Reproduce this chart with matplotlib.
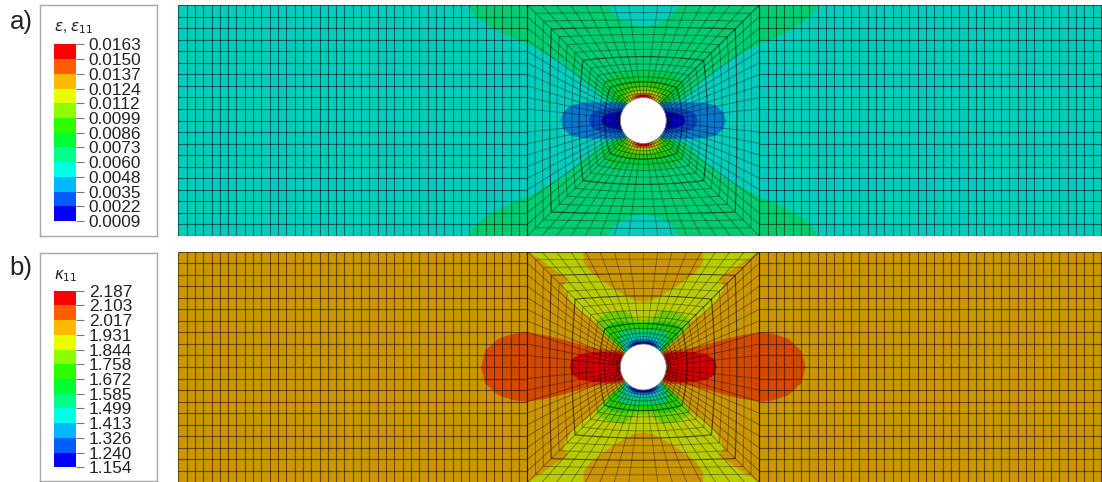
import numpy as np
import matplotlib
matplotlib.use("Agg")
import matplotlib.pyplot as plt
from matplotlib.patches import Polygon, Circle
from matplotlib.colors import ListedColormap, BoundaryNorm
from matplotlib.cm import ScalarMappable

plt.rcParams['font.family'] = ['Liberation Sans', 'DejaVu Sans']
plt.rcParams['mathtext.fontset'] = 'dejavusans'

W, H = 1102, 482

# ---------- legend data ----------
legend_colors = ['#0000FF', '#005DFF', '#00B9FF', '#00FFE8', '#00FF8B', '#00FF2E',
                 '#2EFF00', '#8BFF00', '#E8FF00', '#FFB900', '#FF5D00', '#FF0000']
labels_a = ['0.0009', '0.0022', '0.0035', '0.0048', '0.0060', '0.0073', '0.0086',
            '0.0099', '0.0112', '0.0124', '0.0137', '0.0150', '0.0163']
labels_b = ['1.154', '1.240', '1.326', '1.413', '1.499', '1.585', '1.672',
            '1.758', '1.844', '1.931', '2.017', '2.103', '2.187']

# ---------- mesh data (mesh units) ----------
hole_radius = 23.0
half_height = 115.5
square_half = 116.0
plate_left = -465.0
plate_right = 466.0
n_columns_side = 42
n_rows = 20          # elements along the left and right sides of the square
n_top = 16           # elements along the top and bottom sides of the square
ring_fractions = [0.0, 0.022, 0.047, 0.079, 0.119, 0.169, 0.223, 0.291, 0.363, 0.442,
                  0.52, 0.60, 0.68, 0.759, 0.838, 0.917, 1.0]
dark_rings_a = [0.169, 0.442, 0.759]
dark_rings_b = [0.223, 0.52, 0.759]

# ---------- contour outlines, one quadrant (horizontal, vertical distance from hole centre) ----------
base_a = '#00CDBC'
a_bands = [
    ('#00CC70', [(18, 16), (30, 19), (42, 23), (52, 33), (67, 45), (80, 57), (100, 68), (117, 77),
                 (143, 88), (158, 97), (168, 105), (175, 115.5), (36, 115.5), (27, 103), (13, 96), (0, 94)]),
    ('#00CC40', [(19, 15), (28, 20), (36, 26), (41, 32), (38, 40), (27, 47), (0, 48)]),
    ('#25CC00', [(17, 16), (22, 20), (28, 26), (25, 33), (15, 38), (0, 39)]),
    ('#70CC00', [(16, 17), (19, 22), (18, 28), (11, 32), (0, 33)]),
    ('#BACC00', [(15, 17), (15, 22), (13, 27), (7, 29), (0, 29.5)]),
    ('#CC9400', [(11, 20), (11, 24.5), (7, 27), (0, 27.5)]),
    ('#CC4A00', [(9, 21.5), (7, 25.5), (0, 26.5)]),
    ('#CC0000', [(6, 22.5), (4, 25), (0, 25.5)]),
    ('#0878CC', [(82, 0), (80, 8), (72, 15), (60, 17.5), (45, 18), (32, 18), (24, 18), (17, 17)]),
    ('#0448C4', [(54, 0), (52, 6), (46, 10), (36, 12), (26, 12), (20, 12)]),
    ('#0000C0', [(42, 0), (40, 4), (34, 7), (26, 8), (20, 10)]),
]
base_b = '#CC9600'
b_bands = [
    ('#D24A00', [(162, 0), (158, 16), (145, 28), (130, 33), (117, 34.5), (100, 32), (83, 28), (65, 23),
                 (50, 19), (35, 17), (24, 16), (19, 14)]),
    ('#CC0000', [(73, 0), (71, 8), (62, 13), (48, 15), (35, 15), (26, 14), (20, 12)]),
    ('#BACC00', [(18, 17), (28, 27), (38, 37), (47, 45), (60, 54), (70, 62), (78, 75), (80, 82), (75, 88),
                 (98, 104), (115, 115.5), (60, 115.5), (60, 105), (53, 95), (30, 78), (10, 67), (0, 65)]),
    ('#70CC00', [(20, 17), (30, 25), (38, 32), (44, 40), (47, 47), (37, 53), (20, 57), (7, 48), (0, 47)]),
    ('#25CC00', [(20, 17), (32, 28), (38, 38), (32, 44), (20, 46), (0, 43)]),
    ('#00CC70', [(19, 17), (25, 28), (22, 36), (12, 38), (0, 37)]),
    ('#00CCBA', [(18, 15), (19, 20), (17, 28), (10, 31), (0, 31)]),
    ('#0094CC', [(16, 20), (13, 25), (8, 27.5), (0, 28)]),
    ('#004ACC', [(14, 20), (11, 24), (6, 26), (0, 26)]),
    ('#0000BB', [(12, 20), (9, 23), (5, 24.5), (0, 25)]),
]

fig = plt.figure(figsize=(W / 100, H / 100), dpi=100, facecolor='white')


def px_axes(x0, y0, x1, y1):
    return fig.add_axes([x0 / W, 1 - y1 / H, (x1 - x0) / W, (y1 - y0) / H])


def ring_arrays():
    """Hole-edge points and square-edge points, walked anticlockwise from the corner at +x,+y."""
    s, h = square_half, half_height
    top_x = np.linspace(s, -s, n_top + 1)
    left_y = np.linspace(h, -h, n_rows + 1)
    sq = [(x, h) for x in top_x]
    sq += [(-s, y) for y in left_y[1:]]
    sq += [(x, -h) for x in -top_x[1:]]
    sq += [(s, y) for y in -left_y[1:]]
    sq = np.array(sq)
    a_top = np.linspace(45, 135, n_top + 1)
    a_left = np.linspace(135, 225, n_rows + 1)
    a_bot = np.linspace(225, 315, n_top + 1)
    a_right = np.linspace(315, 405, n_rows + 1)
    ang = np.radians(np.r_[a_top, a_left[1:], a_bot[1:], a_right[1:]])
    return sq, hole_radius * np.cos(ang), hole_radius * np.sin(ang)


def draw_mesh(ax, dark_rings):
    kw = dict(color='black', alpha=0.5, lw=0.8, zorder=3, solid_capstyle='butt')
    fine = dict(kw, alpha=0.42, lw=0.6)
    dark = dict(kw, alpha=0.62, lw=0.8)
    sq, cx, cy = ring_arrays()
    fr = np.array(ring_fractions)
    X = np.outer(1 - fr, cx) + np.outer(fr, sq[:, 0])
    Y = np.outer(1 - fr, cy) + np.outer(fr, sq[:, 1])
    for f, xr, yr in zip(fr, X, Y):
        ax.plot(xr, yr, **(dark if round(f, 3) in dark_rings or f == 1 else fine))
    ax.plot(X, Y, **fine)
    ys = np.linspace(-half_height, half_height, n_rows + 1)
    left = np.linspace(plate_left, -square_half, n_columns_side + 1)
    right = np.linspace(square_half, plate_right, n_columns_side + 1)
    for xs in (left, right):
        for x in xs:
            ax.plot([x, x], [-half_height, half_height], **kw)
        for y in ys:
            ax.plot([xs[0], xs[-1]], [y, y], **kw)


def draw_panel(top, bottom, base, bands, dark_rings):
    ax = px_axes(178, top, W, bottom)
    cx = 643.3 - 178
    ax.set_xlim(-cx, W - 178 - cx)
    ax.set_ylim(-half_height, half_height)
    ax.axis('off')
    ax.add_patch(plt.Rectangle((plate_left, -half_height), plate_right - plate_left, 2 * half_height,
                               fc=base, ec='none', zorder=1))
    for z, (color, outline) in enumerate(bands):
        pts = np.array(list(outline) + [(0, 0)], dtype=float)
        for sx, sy in ((1, 1), (-1, 1), (1, -1), (-1, -1)):
            ax.add_patch(Polygon(pts * [sx, sy], closed=True, fc=color, ec=color, lw=0.3, zorder=2 + 0.01 * z))
    draw_mesh(ax, dark_rings)
    ax.add_patch(Circle((0, 0), hole_radius, fc='white', ec='#777777', lw=0.6, zorder=4))


def draw_legend(box_top, box_bottom, bar_top, bar_bottom, title, labels, letter, letter_y):
    box = px_axes(39.5, box_top, 156.7, box_bottom)
    box.set_xticks([])
    box.set_yticks([])
    for s in box.spines.values():
        s.set_edgecolor('#A8A8A8')
        s.set_linewidth(1.0)
    fig.text(54 / W, 1 - (box_top + 23) / H, title, fontsize=11, color='#222222', va='center', ha='left')
    bar = px_axes(54, bar_top, 76.3, bar_bottom)
    cmap = ListedColormap(legend_colors)
    levels = np.arange(len(labels))
    cb = fig.colorbar(ScalarMappable(norm=BoundaryNorm(levels, cmap.N), cmap=cmap), cax=bar,
                      spacing='uniform', drawedges=False)
    cb.set_ticks(levels)
    cb.set_ticklabels(labels)
    cb.outline.set_visible(False)
    cb.minorticks_off()
    bar.tick_params(axis='y', length=5.5, width=0.8, color='#777777', pad=3.4,
                    labelsize=12.4, labelcolor='#222222', right=True)
    fig.text(9.5 / W, 1 - letter_y / H, letter, fontsize=18.5, color='#222222', va='center', ha='left')


draw_panel(5, 236, base_a, a_bands, dark_rings_a)
draw_panel(251.5, 482.5, base_b, b_bands, dark_rings_b)
draw_legend(5.3, 235.7, 44.5, 221, r'$\varepsilon$, $\varepsilon_{11}$', labels_a, 'a)', 22)
draw_legend(253, 481, 290.7, 467.3, r'$\kappa_{11}$', labels_b, 'b)', 268)

fig.savefig('out.png', dpi=100, facecolor='white')
